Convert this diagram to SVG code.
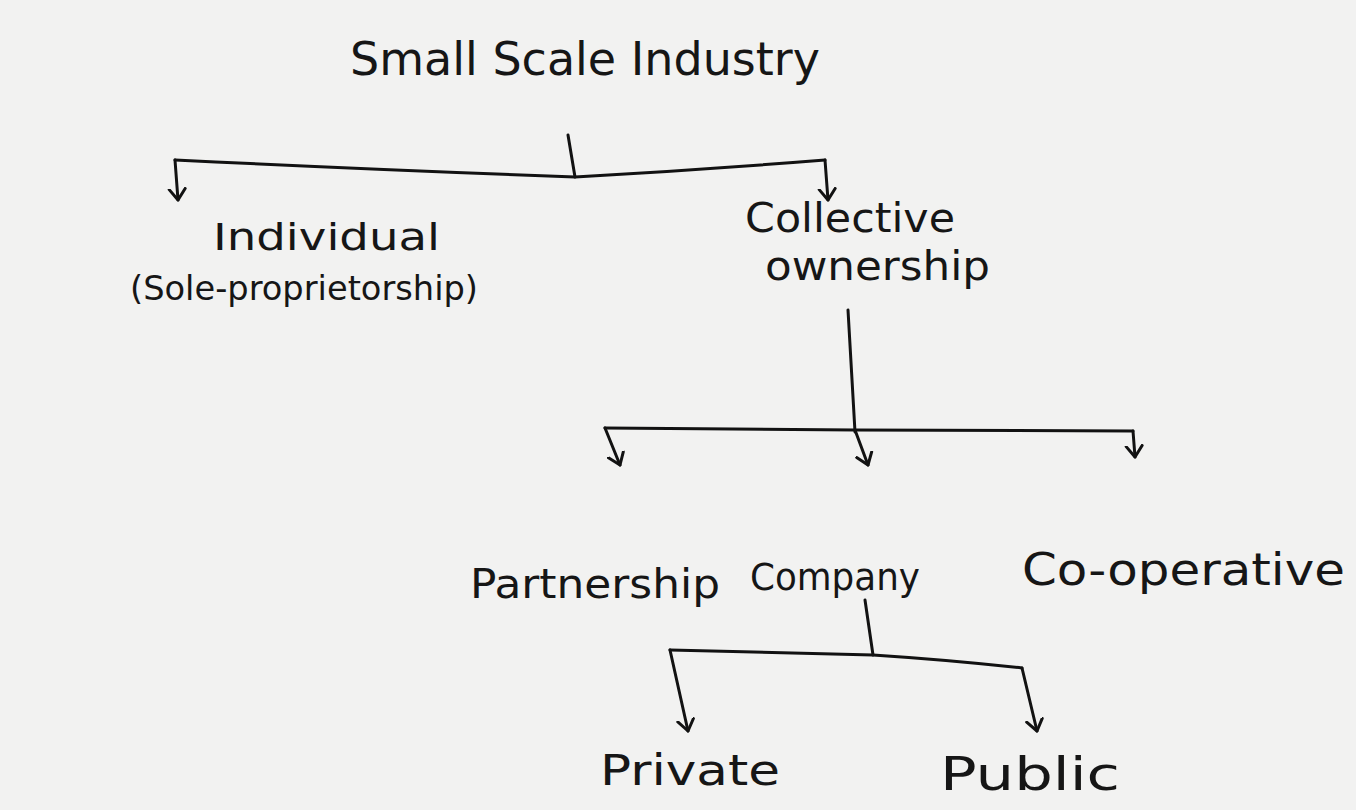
<svg xmlns="http://www.w3.org/2000/svg" width="1356" height="810" viewBox="0 0 1356 810">
<style>
.t{font-family:"DejaVu Sans","Liberation Sans",sans-serif;fill:#161616}
.c{fill:none;stroke:#121212;stroke-width:3;stroke-linecap:round;stroke-linejoin:round}
</style>
<defs>
<marker id="v" viewBox="-12 -10 14 20" refX="0" refY="0" markerWidth="14" markerHeight="20" markerUnits="userSpaceOnUse" orient="auto">
<polyline points="-11,-8 0,0 -11,8" fill="none" stroke="#121212" stroke-width="3" stroke-linecap="round" stroke-linejoin="round"/>
</marker>
</defs>
<rect width="1356" height="810" fill="#f2f2f1"/>
<g id="connectors">
<path class="c" d="M568,135 L575,177"/>
<path class="c" d="M175,160 Q380,170 575,177 Q700,170 825,160"/>
<path class="c" d="M175,160 L178,200" marker-end="url(#v)"/>
<path class="c" d="M825,160 L828,200" marker-end="url(#v)"/>
<path class="c" d="M848,310 L855,432"/>
<path class="c" d="M605,428 L855,430 L1133,431"/>
<path class="c" d="M605,428 L620,465" marker-end="url(#v)"/>
<path class="c" d="M855,430 L868,465" marker-end="url(#v)"/>
<path class="c" d="M1133,431 L1135,457" marker-end="url(#v)"/>
<path class="c" d="M865,600 L873,655"/>
<path class="c" d="M670,650 L873,655 Q950,660 1022,668"/>
<path class="c" d="M670,650 L688,731" marker-end="url(#v)"/>
<path class="c" d="M1022,668 L1037,731" marker-end="url(#v)"/>
</g>
<g id="root"><text class="t" x="350" y="75" font-size="46" textLength="470" lengthAdjust="spacingAndGlyphs">Small Scale Industry</text></g>
<g id="individual">
<text class="t" x="213" y="250" font-size="38" textLength="227" lengthAdjust="spacingAndGlyphs">Individual</text>
<text class="t" x="130" y="300" font-size="34" textLength="348" lengthAdjust="spacingAndGlyphs">(Sole-proprietorship)</text>
</g>
<g id="collective">
<text class="t" x="745" y="232" font-size="40" textLength="210" lengthAdjust="spacingAndGlyphs">Collective</text>
<text class="t" x="765" y="280" font-size="40" textLength="225" lengthAdjust="spacingAndGlyphs">ownership</text>
</g>
<g id="partnership"><text class="t" x="470" y="598" font-size="40" textLength="250" lengthAdjust="spacingAndGlyphs">Partnership</text></g>
<g id="company"><text class="t" x="750" y="590" font-size="38" textLength="170" lengthAdjust="spacingAndGlyphs">Company</text></g>
<g id="cooperative"><text class="t" x="1022" y="585" font-size="44" textLength="323" lengthAdjust="spacingAndGlyphs">Co-operative</text></g>
<g id="private"><text class="t" x="600" y="785" font-size="42" textLength="180" lengthAdjust="spacingAndGlyphs">Private</text></g>
<g id="public"><text class="t" x="940" y="790" font-size="46" textLength="180" lengthAdjust="spacingAndGlyphs">Public</text></g>
</svg>
